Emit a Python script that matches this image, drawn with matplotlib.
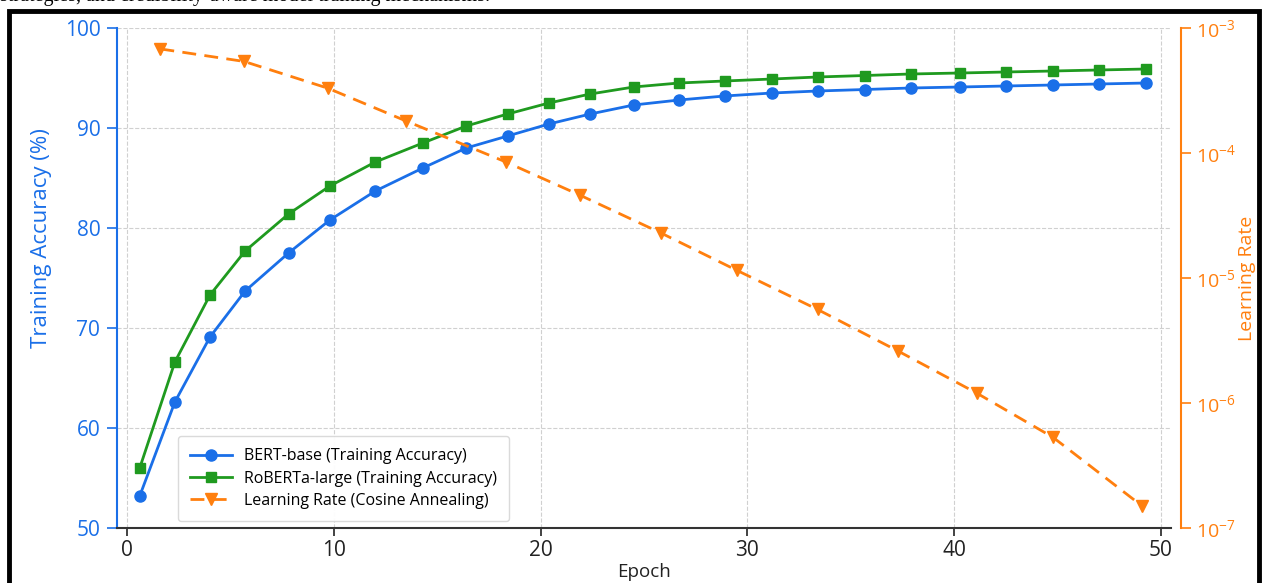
import matplotlib
matplotlib.use("Agg")
import matplotlib.pyplot as plt
from matplotlib.patches import Rectangle
from matplotlib.ticker import NullLocator, LogLocator

plt.rcParams['font.family'] = ['Open Sans', 'DejaVu Sans']

# epochs where the accuracy curves are sampled
epochs = [0.6, 2.3, 4.0, 5.7, 7.8, 9.8, 12.0, 14.3, 16.4, 18.4, 20.4, 22.4,
          24.5, 26.7, 28.9, 31.2, 33.4, 35.7, 37.9, 40.3, 42.5, 44.8, 47.0, 49.3]
bert_acc = [53.2, 62.6, 69.1, 73.7, 77.5, 80.8, 83.7, 86.0, 88.0, 89.2, 90.4, 91.4,
            92.3, 92.8, 93.2, 93.5, 93.7, 93.85, 94.0, 94.1, 94.2, 94.3, 94.4, 94.5]
roberta_acc = [56.0, 66.6, 73.3, 77.7, 81.4, 84.2, 86.6, 88.5, 90.2, 91.4, 92.5, 93.4,
               94.1, 94.5, 94.7, 94.9, 95.1, 95.25, 95.4, 95.5, 95.6, 95.7, 95.8, 95.9]

# learning rate points (cosine annealing)
lr_epochs = [1.6, 5.65, 9.7, 13.5, 18.3, 21.9, 25.8, 29.5, 33.4, 37.3, 41.1, 44.8, 49.1]
lr_values = [6.8e-4, 5.4e-4, 3.3e-4, 1.8e-4, 8.5e-5, 4.6e-5, 2.3e-5, 1.15e-5,
             5.6e-6, 2.6e-6, 1.2e-6, 5.3e-7, 1.5e-7]

BLUE = '#1a6fe8'
GREEN = '#1f9a1f'
ORANGE = '#ff7f0e'

fig = plt.figure(figsize=(12.62, 5.83), dpi=100)

# piece of the caption above the figure, cut off by the screenshot
fig.text(0.0, 1 - 1.0 / 583, "strategies, and credibility-aware model training mechanisms.",
         family=['Liberation Serif'], fontsize=14.5, va='baseline', ha='left')
# black frame around the figure
fig.patches.append(Rectangle((8.5 / 1262, -0.05), 1 - 12 / 1262, 1 - 11 / 583 + 0.05,
                             transform=fig.transFigure, fill=False,
                             edgecolor='black', linewidth=3.5))

ax = fig.add_axes([117 / 1262, 1 - 528 / 583, (1171 - 117) / 1262, 500 / 583])
ax.plot(epochs, bert_acc, color=BLUE, marker='o', markersize=8, linewidth=2,
        label='BERT-base (Training Accuracy)')
ax.plot(epochs, roberta_acc, color=GREEN, marker='s', markersize=7.5, linewidth=2,
        label='RoBERTa-large (Training Accuracy)')
ax.set_xlim(-0.5, 50.5)
ax.set_ylim(50, 100)
ax.set_xticks([0, 10, 20, 30, 40, 50])
ax.set_yticks([50, 60, 70, 80, 90, 100])
ax.grid(True, linestyle='--', color='#d0d0d0', linewidth=0.8)
ax.set_axisbelow(True)
ax.set_xlabel('Epoch', fontsize=13.5, color='#222222', labelpad=1)
ax.set_ylabel('Training Accuracy (%)', fontsize=16, color=BLUE)
ax.yaxis.set_label_coords(-0.062, 0.58)
ax.tick_params(axis='y', colors=BLUE, labelsize=15, length=7, width=1.2, pad=5)
ax.tick_params(axis='x', colors='#222222', labelsize=15, length=6, width=1.2, pad=3)
ax.spines['left'].set_color(BLUE)
ax.spines['left'].set_linewidth(1.5)
ax.spines['bottom'].set_color('#333333')
ax.spines['bottom'].set_linewidth(1.5)
ax.spines['top'].set_visible(False)
ax.spines['right'].set_visible(False)

ax2 = ax.twinx()
ax2.plot(lr_epochs, lr_values, color=ORANGE, marker='v', markersize=8.5, linewidth=2,
         linestyle='--', dashes=(5, 3), label='Learning Rate (Cosine Annealing)')
ax2.set_yscale('log')
ax2.set_ylim(1e-7, 1e-3)
ax2.yaxis.set_major_locator(LogLocator(base=10, numticks=10))
ax2.yaxis.set_minor_locator(NullLocator())
ax2.set_ylabel('Learning Rate', fontsize=14, color=ORANGE)
ax2.yaxis.set_label_coords(1.064, 0.5)
ax2.tick_params(axis='y', colors=ORANGE, labelsize=14, length=7, width=1.2, pad=4)
ax2.spines['right'].set_position(('outward', 7))
ax2.spines['right'].set_color(ORANGE)
ax2.spines['right'].set_linewidth(1.5)
ax2.spines['top'].set_visible(False)
ax2.spines['left'].set_visible(False)
ax2.spines['bottom'].set_visible(False)

h1, l1 = ax.get_legend_handles_labels()
h2, l2 = ax2.get_legend_handles_labels()
leg = ax2.legend(h1 + h2, l1 + l2, loc='lower left', bbox_to_anchor=(0.058, 0.014),
                 borderaxespad=0, fontsize=11.5, frameon=True, fancybox=True,
                 handlelength=2.6, borderpad=0.75, labelspacing=0.4)
leg.get_frame().set_edgecolor('#d8d8d8')
leg.get_frame().set_alpha(0.95)

fig.savefig('out.png', dpi=100)
